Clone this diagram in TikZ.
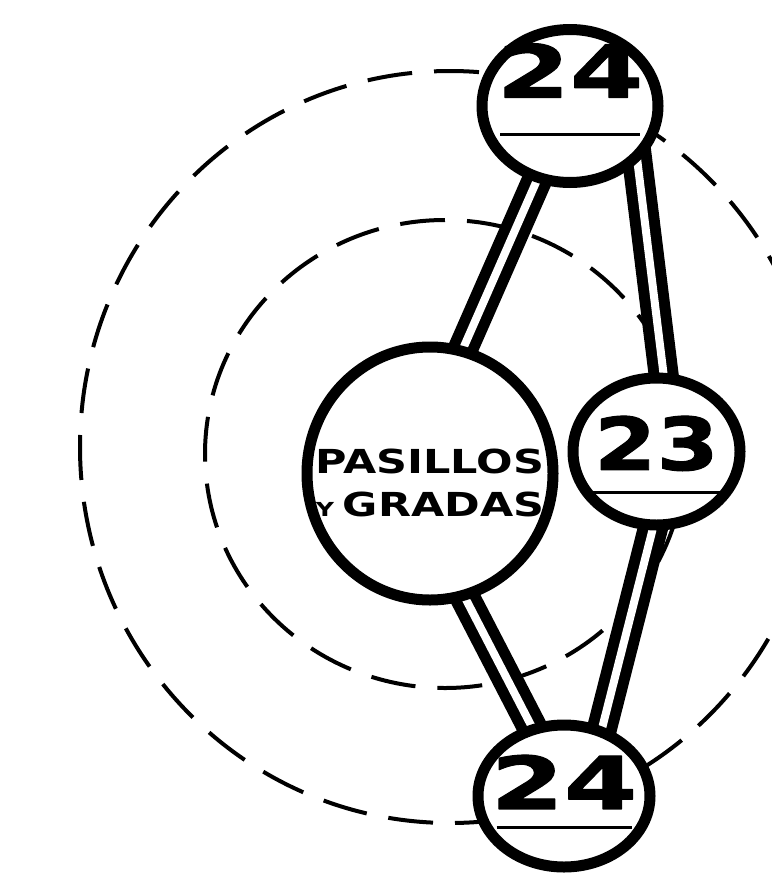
\documentclass[tikz,border=0pt]{standalone}
\usepackage{fontspec}
\usetikzlibrary{shapes.geometric,backgrounds}

\newfontfamily\stampfont{DejaVu Sans}[FakeStretch=1.3]
\newfontfamily\numfont{DejaVu Sans}[FakeStretch=1.45,FakeBold=1.5]
% number, gap above the rule, drop of the rule, rule width
\newcommand{\numtag}[4]{\makebox[0pt]{\smash{\raisebox{#3}{\shortstack{#1\\[#2]\rule{#4}{0.35mm}}}}}}

\begin{document}
\begin{tikzpicture}[
  x=1mm,
  y=-1mm,
  line join=round,
  bubble/.style={ellipse,draw,line width=1.1mm,fill=white,inner sep=0pt},
  numtext/.style={font=\numfont\bfseries\fontsize{20.7}{24}\selectfont},
  band/.style={draw,line width=1.1mm,double=white,double distance=0.8mm,
    shorten <=-1.5mm,shorten >=-1.5mm},
  orbit/.style={draw,line width=0.4mm,dash pattern=on 4.5mm off 2.2mm}
]
  % Frame of the original artwork.
  \useasboundingbox (0,0) rectangle (77.1,87.5);
  \clip (0,0) rectangle (77.1,87.5);

  % Sector bubbles.
  \node[bubble,numtext,minimum width=17.6mm,minimum height=15.3mm] (topSector)
    at (57.0,10.6) {\numtag{24}{2.45mm}{-3.0mm}{14mm}};
  \node[bubble,minimum width=24.6mm,minimum height=25.3mm,
    font=\stampfont\bfseries\fontsize{9.4}{12.2}\selectfont] (hall)
    at (43.0,47.35) {\makebox[0pt]{\smash{\raisebox{-2.1mm}{\begin{tabular}{@{}c@{}}PASILLOS\\{\fontsize{5.5}{6}\selectfont Y}\hfill GRADAS\end{tabular}}}}};
  \node[bubble,numtext,minimum width=16.7mm,minimum height=14.7mm] (sideSector)
    at (65.65,45.15) {\numtag{\scalebox{0.85}[1]{23}}{0.9mm}{-4.25mm}{14mm}};
  \node[bubble,numtext,minimum width=17.2mm,minimum height=14.2mm] (bottomSector)
    at (56.4,79.6) {\numtag{24}{0.6mm}{-3.3mm}{13.5mm}};

  \begin{scope}[on background layer]
    % Dashed rings behind everything.
    \draw[orbit] (45.0,44.7) ellipse [x radius=37.0,y radius=37.6];
    \draw[orbit] (44.5,45.4) ellipse [x radius=24.0,y radius=23.4];

    % Double links between the bubbles.
    \draw[band] (topSector.-114) -- (hall.75);
    \draw[band] (topSector.-40) -- (sideSector.85);
    \draw[band] (hall.-74) -- (bottomSector.115);
    \draw[band] (sideSector.-93) -- (bottomSector.61);
  \end{scope}
\end{tikzpicture}
\end{document}
